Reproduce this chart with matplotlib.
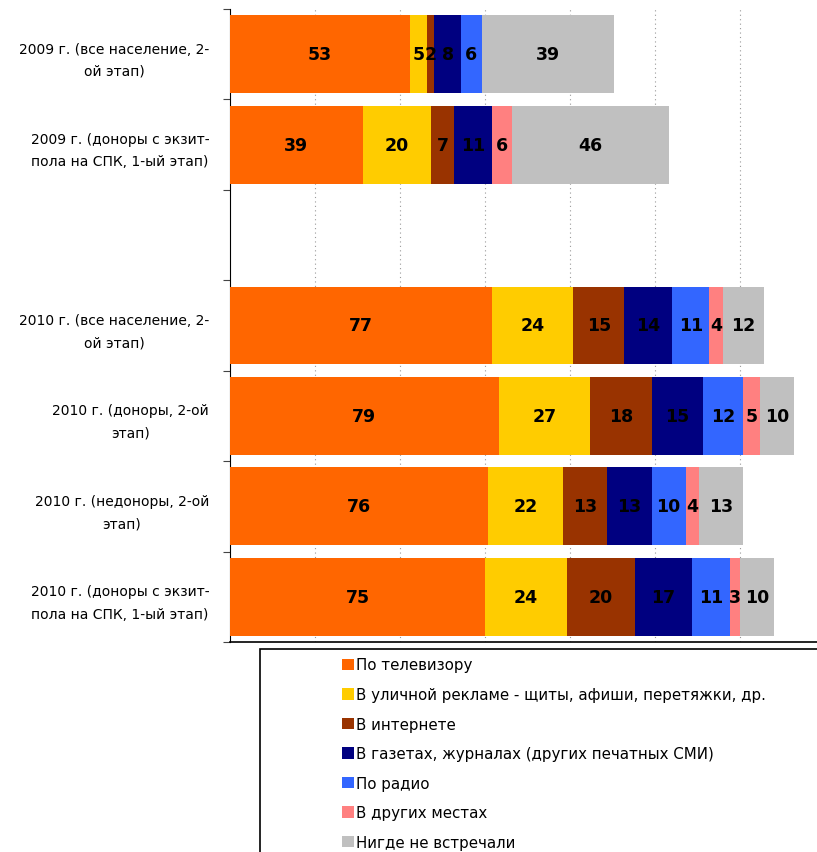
import numpy as np
import matplotlib
matplotlib.use("Agg")
import matplotlib.pyplot as plt
from matplotlib.patches import Rectangle

plt.rcParams['font.family'] = ['DejaVu Sans']

# groups, top to bottom ("" = empty slot)
groups = ["2009 г. (все население, 2-\nой этап)",
          "2009 г. (доноры с экзит-\nпола на СПК, 1-ый этап)",
          "",
          "2010 г. (все население, 2-\nой этап)",
          "2010 г. (доноры, 2-ой\nэтап)",
          "2010 г. (недоноры, 2-ой\nэтап)",
          "2010 г. (доноры с экзит-\nпола на СПК, 1-ый этап)"]

sources = ["По телевизору",
           "В уличной рекламе - щиты, афиши, перетяжки, др.",
           "В интернете",
           "В газетах, журналах (других печатных СМИ)",
           "По радио",
           "В других местах",
           "Нигде не встречали"]

tv      = [53, 39, 0, 77, 79, 76, 75]
street  = [5, 20, 0, 24, 27, 22, 24]
web     = [2, 7, 0, 15, 18, 13, 20]
press   = [8, 11, 0, 14, 15, 13, 17]
radio   = [6, 0, 0, 11, 12, 10, 11]
other   = [0, 6, 0, 4, 5, 4, 3]
nowhere = [39, 46, 0, 12, 10, 13, 10]

colors = ["#FF6600", "#FFCC00", "#993300", "#000080", "#3366FF", "#FF8080", "#C0C0C0"]

series = [tv, street, web, press, radio, other, nowhere]

W, H = 817, 853
fig = plt.figure(figsize=(W / 100, H / 100), dpi=100)
ax = fig.add_axes([230 / W, 1 - 643 / H, 1 - 230 / W, (643 - 10) / H])

y = np.arange(len(groups))
left = np.zeros(len(groups))
for vals, col, name in zip(series, colors, sources):
    vals = np.array(vals, dtype=float)
    ax.barh(y, vals, left=left, height=0.86, color=col, label=name, zorder=3)
    for yi, v, l in zip(y, vals, left):
        if v > 0:
            ax.text(l + v / 2, yi, str(int(v)), ha='center', va='center',
                    fontsize=12.5, fontweight='bold', color='black', zorder=4)
    left += vals

ax.set_xlim(0, (W - 230) / 3.40)
ax.set_ylim(len(groups) - 0.5, -0.5)
ax.set_xticks(np.arange(25, 175, 25))
ax.set_xticklabels([])
ax.tick_params(axis='x', length=0)
ax.grid(axis='x', color='#999999', linestyle=(0, (1, 3)), linewidth=0.8, zorder=0)

ax.set_yticks(np.arange(-0.5, len(groups), 1))
ax.set_yticklabels([])
ax.set_yticks(y, minor=True)
ax.set_yticklabels(groups, minor=True, fontsize=10, linespacing=1.75,
                   multialignment='center')
ax.tick_params(axis='y', which='major', length=5, direction='out', color='#444444')
ax.tick_params(axis='y', which='minor', length=0, pad=15)

for s in ['top', 'right']:
    ax.spines[s].set_visible(False)
ax.spines['left'].set_color('black')
ax.spines['bottom'].set_color('black')
ax.spines['bottom'].set_linewidth(1.2)

# legend box
fig.patches.append(Rectangle((260 / W, -0.05), 1.0, 1 - 650 / H + 0.05,
                             transform=fig.transFigure, fill=False,
                             edgecolor='black', linewidth=1.2))
handles, labels = ax.get_legend_handles_labels()
fig.legend(handles, labels, loc='upper left',
           bbox_to_anchor=(328 / W, 1 - 645 / H), frameon=False,
           fontsize=10.8, handlelength=0.8, handleheight=0.8,
           handletextpad=0.15, labelspacing=0.97)

fig.savefig("out.png", dpi=100)
